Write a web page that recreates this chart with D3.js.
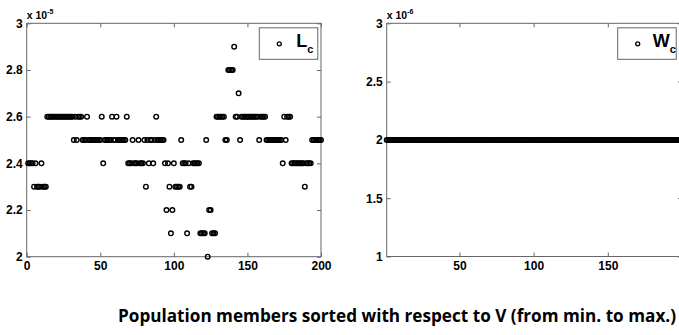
<!DOCTYPE html>
<html>
<head>
<meta charset="utf-8">
<script src="https://cdnjs.cloudflare.com/ajax/libs/d3/7.8.5/d3.min.js"></script>
<style>
body{margin:0;background:#fff;}
svg{display:block;font-family:"Liberation Sans",Arial,sans-serif;}
</style>
</head>
<body>
<div id="chart"></div>
<script>
// L_c values (x 1e-5), population members 1..200
var lcValues = [
  2.4,2.4,2.4,2.4,2.3,2.4,2.3,2.3,2.3,2.4,
  2.3,2.3,2.3,2.6,2.6,2.6,2.6,2.6,2.6,2.6,
  2.6,2.6,2.6,2.6,2.6,2.6,2.6,2.6,2.6,2.6,
  2.6,2.5,2.6,2.5,2.6,2.6,2.6,2.5,2.5,2.5,
  2.6,2.5,2.5,2.5,2.5,2.5,2.5,2.5,2.5,2.5,
  2.6,2.4,2.5,2.5,2.5,2.5,2.5,2.6,2.5,2.5,
  2.6,2.5,2.5,2.5,2.5,2.5,2.5,2.6,2.4,2.4,
  2.4,2.5,2.4,2.4,2.4,2.5,2.4,2.4,2.4,2.5,
  2.3,2.5,2.4,2.5,2.5,2.4,2.5,2.6,2.5,2.5,
  2.5,2.5,2.5,2.4,2.2,2.4,2.3,2.1,2.2,2.4,
  2.3,2.3,2.3,2.3,2.5,2.4,2.4,2.4,2.1,2.4,
  2.3,2.3,2.4,2.4,2.4,2.4,2.4,2.1,2.1,2.1,
  2.1,2.5,2.0,2.2,2.2,2.1,2.1,2.1,2.6,2.6,
  2.6,2.6,2.6,2.6,2.5,2.5,2.8,2.8,2.8,2.8,
  2.9,2.6,2.6,2.7,2.5,2.6,2.6,2.6,2.6,2.6,
  2.6,2.6,2.6,2.6,2.6,2.6,2.6,2.5,2.6,2.6,
  2.6,2.6,2.5,2.5,2.5,2.5,2.5,2.5,2.5,2.5,
  2.5,2.5,2.5,2.4,2.6,2.5,2.6,2.6,2.6,2.4,
  2.4,2.4,2.4,2.4,2.4,2.4,2.4,2.4,2.3,2.4,
  2.4,2.4,2.4,2.5,2.5,2.5,2.5,2.5,2.5,2.5
];
// W_c values (x 1e-6), population members 1..200
var wcValues = [
  2,2,2,2,2,2,2,2,2,2,2,2,2,2,2,2,2,2,2,2,
  2,2,2,2,2,2,2,2,2,2,2,2,2,2,2,2,2,2,2,2,
  2,2,2,2,2,2,2,2,2,2,2,2,2,2,2,2,2,2,2,2,
  2,2,2,2,2,2,2,2,2,2,2,2,2,2,2,2,2,2,2,2,
  2,2,2,2,2,2,2,2,2,2,2,2,2,2,2,2,2,2,2,2,
  2,2,2,2,2,2,2,2,2,2,2,2,2,2,2,2,2,2,2,2,
  2,2,2,2,2,2,2,2,2,2,2,2,2,2,2,2,2,2,2,2,
  2,2,2,2,2,2,2,2,2,2,2,2,2,2,2,2,2,2,2,2,
  2,2,2,2,2,2,2,2,2,2,2,2,2,2,2,2,2,2,2,2,
  2,2,2,2,2,2,2,2,2,2,2,2,2,2,2,2,2,2,2,2
];
var leftXTicks = [0,50,100,150,200];
var leftYTicks = [2,2.2,2.4,2.6,2.8,3];
var rightXTicks = [50,100,150];
var rightYTicks = [1,1.5,2,2.5,3];
var xLabel = 'Population members sorted with respect to V (from min. to max.)';

var svg = d3.select('#chart').append('svg')
    .attr('width', 679)
    .attr('height', 335);

function drawPanel(p){
    var x = d3.scaleLinear().domain(p.xDomain).range([p.left, p.right]);
    var y = d3.scaleLinear().domain(p.yDomain).range([p.bottom, p.top]);
    var g = svg.append('g');

    g.append('g')
        .attr('transform', 'translate(0,' + p.bottom + ')')
        .call(d3.axisBottom(x).tickValues(p.xTicks).tickSize(-4).tickPadding(5).tickFormat(d3.format('d')));
    g.append('g')
        .attr('transform', 'translate(0,' + p.top + ')')
        .call(d3.axisTop(x).tickValues(p.xTicks).tickSize(-4).tickFormat(''));
    g.append('g')
        .attr('transform', 'translate(' + p.left + ',0)')
        .call(d3.axisLeft(y).tickValues(p.yTicks).tickSize(-4).tickPadding(4).tickFormat(d3.format('')));
    g.append('g')
        .attr('transform', 'translate(' + p.right + ',0)')
        .call(d3.axisRight(y).tickValues(p.yTicks).tickSize(-4).tickFormat(''));

    g.selectAll('.domain').remove();
    g.selectAll('.tick line').attr('stroke', '#666');
    g.selectAll('.tick text')
        .attr('fill', '#000')
        .style('font-size', '12px')
        .style('font-weight', 'bold');

    g.append('rect')
        .attr('x', p.left).attr('y', p.top)
        .attr('width', p.right - p.left)
        .attr('height', p.bottom - p.top)
        .attr('fill', 'none')
        .attr('stroke', '#666')
        .attr('stroke-width', 1);

    g.append('g').selectAll('circle')
        .data(p.values)
        .enter()
        .append('circle')
        .attr('cx', function(d, i){ return x(i + 1); })
        .attr('cy', function(d){ return y(d); })
        .attr('r', 2.3)
        .attr('fill', 'none')
        .attr('stroke', '#000')
        .attr('stroke-width', 1.4);

    // exponent label
    var ex = g.append('text')
        .attr('x', p.left)
        .attr('y', p.top - 4)
        .style('font-size', '10.5px')
        .style('font-weight', 'bold');
    ex.append('tspan').text('x 10');
    ex.append('tspan').attr('dy', -5).style('font-size', '7px').text(p.exponent);

    // legend
    var lg = g.append('g');
    lg.append('rect')
        .attr('x', p.legendX).attr('y', p.top + 4.5)
        .attr('width', 58.5).attr('height', 31.5)
        .attr('fill', '#fff')
        .attr('stroke', '#666');
    lg.append('circle')
        .attr('cx', p.legendX + 20).attr('cy', p.top + 20.5)
        .attr('r', 2)
        .attr('fill', 'none')
        .attr('stroke', '#000')
        .attr('stroke-width', 1.3);
    var lt = lg.append('text')
        .attr('x', p.legendX + p.labelOffset)
        .attr('y', p.top + 23.5)
        .style('font-weight', 'bold')
        .style('font-size', '18px');
    lt.append('tspan').text(p.name);
    lt.append('tspan').attr('dy', 6.5).style('font-size', '11px').text('c');
}

drawPanel({
    values: lcValues,
    xDomain: [0, 200], yDomain: [2, 3],
    left: 26.7, right: 321, top: 23.3, bottom: 256.7,
    xTicks: leftXTicks, yTicks: leftYTicks,
    exponent: '-5', legendX: 259.3, labelOffset: 37, name: 'L'
});

drawPanel({
    values: wcValues,
    xDomain: [1, 200], yDomain: [1, 3],
    left: 386.7, right: 682, top: 23.3, bottom: 256.5,
    xTicks: rightXTicks, yTicks: rightYTicks,
    exponent: '-6', legendX: 617.7, labelOffset: 35, name: 'W'
});

svg.append('text')
    .attr('x', 118)
    .attr('y', 322)
    .attr('textLength', 558)
    .attr('lengthAdjust', 'spacingAndGlyphs')
    .style('font-family', '"Open Sans", "Noto Sans", sans-serif')
    .style('font-weight', 'bold')
    .style('font-size', '17px')
    .text(xLabel);
</script>
</body>
</html>
